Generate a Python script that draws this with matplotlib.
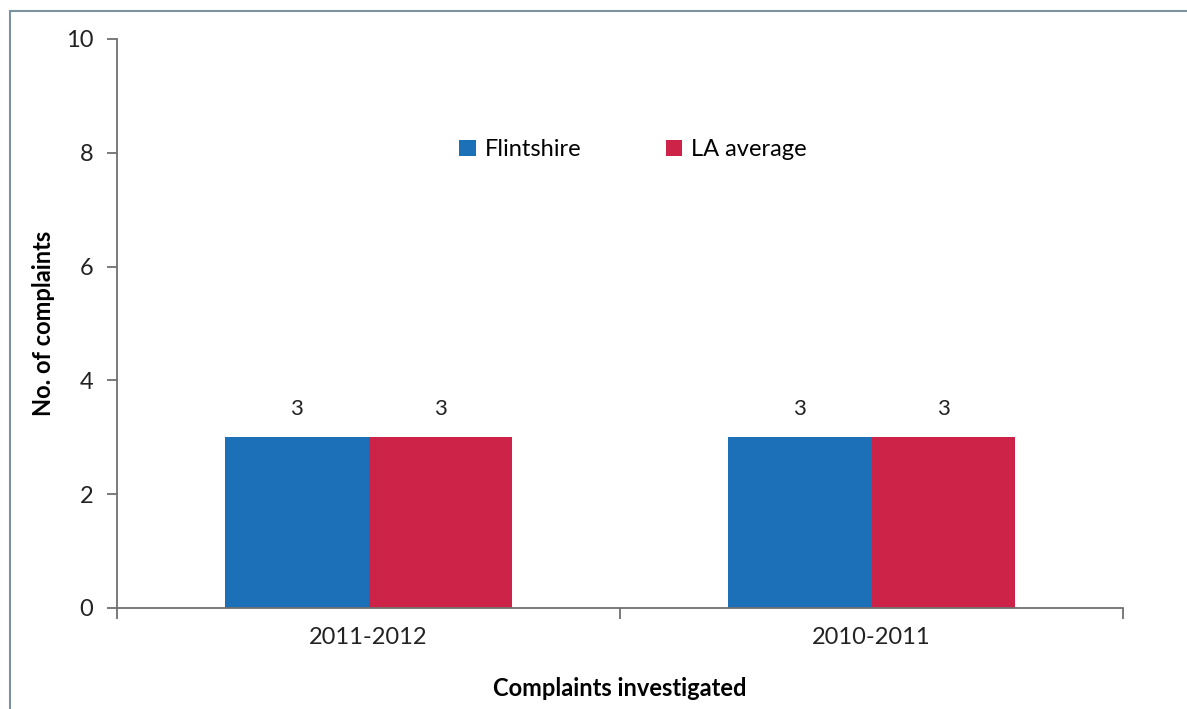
import numpy as np
import matplotlib.pyplot as plt
from matplotlib.patches import Rectangle

plt.rcParams['font.family'] = ['Lato', 'DejaVu Sans']

years = ["2011-2012", "2010-2011"]
flintshire = [3, 3]
la_average = [3, 3]

fig = plt.figure(figsize=(11.87, 7.09), dpi=100)
ax = fig.add_axes([0.0986, 0.1425, 0.8475, 0.8025])

# frame around the chart (left + top visible only)
fig.patches.append(Rectangle((10 / 1187, -0.1), 1.2, 1 - 11 / 709 + 0.1,
                             transform=fig.transFigure, fill=False,
                             edgecolor="#7b93a1", linewidth=1.5))

x = np.arange(len(years))
w = 0.286
b1 = ax.bar(x - w / 2, flintshire, w, color="#1b70b8", label="Flintshire")
b2 = ax.bar(x + w / 2, la_average, w, color="#cd2349", label="LA average")

for bars in (b1, b2):
    for r in bars:
        ax.text(r.get_x() + r.get_width() / 2, r.get_height() + 0.32,
                "%d" % r.get_height(), ha="center", va="bottom",
                fontsize=16, color="#222222")

ax.set_xlim(-0.5, 1.5)
ax.set_ylim(0, 10)
ax.set_yticks(range(0, 11, 2))
ax.set_xticks([-0.5, 0.5, 1.5])
ax.set_xticklabels([])
ax.set_xticks(x, minor=True)
ax.set_xticklabels(years, minor=True)
ax.tick_params(axis="x", which="minor", length=0, pad=14, labelsize=17, labelcolor="#222222")
ax.tick_params(axis="x", which="major", length=8, width=1.3, color="#707070")
ax.tick_params(axis="y", length=7, width=1.3, color="#707070", pad=10,
               labelsize=17, labelcolor="#222222")

for s in ("top", "right"):
    ax.spines[s].set_visible(False)
for s in ("left", "bottom"):
    ax.spines[s].set_color("#707070")
    ax.spines[s].set_linewidth(1.3)

ax.set_ylabel("No. of complaints", fontsize=17, fontweight="bold")
ax.yaxis.set_label_coords(-0.0616, 0.5)
ax.set_xlabel("Complaints investigated", fontsize=17, fontweight="bold")
ax.xaxis.set_label_coords(0.5, -0.122)

ax.legend(loc="center", bbox_to_anchor=(0.513, 0.805), ncol=2, frameon=False,
          fontsize=17, handlelength=0.7, handleheight=0.7, handletextpad=0.4,
          columnspacing=3.55)

fig.savefig("out.png", dpi=100)
